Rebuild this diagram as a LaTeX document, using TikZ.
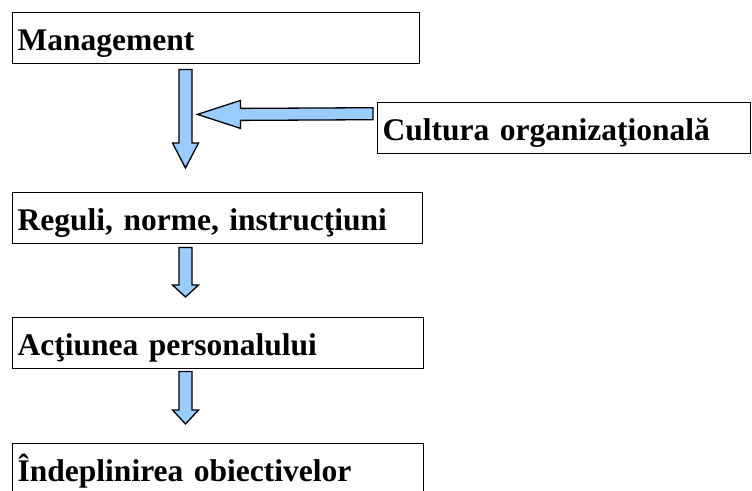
\documentclass[tikz,border=0pt]{standalone}
\usepackage{fontspec}
\setmainfont{Liberation Serif}
\usetikzlibrary{calc}

\definecolor{arrowblue}{RGB}{153,204,255}

\tikzset{
  stagebox/.style={draw, line width=1.4pt, rectangle, anchor=north west, minimum height=51pt,
    inner xsep=5pt, inner ysep=0pt, text height=32pt, text depth=7pt, align=left,
    font=\bfseries\fontsize{31.5}{36}\selectfont},
  blockarrow/.style={draw, line width=1.3pt, fill=arrowblue, line join=miter}
}

% block arrow pointing down: top, tip, head length
\newcommand{\downblock}[3]{%
  \draw[blockarrow] ($(#1)+(-6.5,0)$) -- ($(#1)+(6.5,0)$) -- ($(#2)+(6.5,-#3)$) -- ($(#2)+(13,-#3)$)
    -- (#2) -- ($(#2)+(-13,-#3)$) -- ($(#2)+(-6.5,-#3)$) -- cycle;}
% block arrow pointing left: tail, tip, head length
\newcommand{\leftblock}[3]{%
  \draw[blockarrow] ($(#1)+(0,-6)$) -- ($(#1)+(0,6)$) -- ($(#2)+(#3,6)$) -- ($(#2)+(#3,14)$)
    -- (#2) -- ($(#2)+(#3,-14)$) -- ($(#2)+(#3,-6)$) -- cycle;}

\begin{document}
\begin{tikzpicture}[x=1pt,y=-1pt]
\useasboundingbox (0,0) rectangle (752,490);
\clip (0,0) rectangle (752,490);

\node[stagebox, text width=397pt] (mgmt) at (12,12) {Management};
\node[stagebox, text width=363pt] (cultura) at (377,102) {Cultura organizaţională};
\node[stagebox, text width=400pt] (reguli) at (12,192) {Reguli, norme, instrucţiuni};
\node[stagebox, text width=401pt] (actiune) at (12,317) {Acţiunea personalului};
\node[stagebox, text width=401pt] (obiective) at (12,443) {Îndeplinirea obiectivelor};

\coordinate (m-out) at ($(mgmt.south west)+(173.5,5)$);
\coordinate (r-in) at ($(reguli.north west)+(173.5,-24)$);
\coordinate (r-out) at ($(reguli.south west)+(173.5,3)$);
\coordinate (a-in) at ($(actiune.north west)+(173.5,-20)$);
\coordinate (a-out) at ($(actiune.south west)+(173.5,2)$);
\coordinate (o-in) at ($(obiective.north west)+(173.5,-19)$);
\coordinate (c-out) at ($(cultura.west)+(-4,-14.5)$);
\coordinate (m-join) at ($(m-out)+(12,45)$);

\downblock{m-out}{r-in}{25}
\leftblock{c-out}{m-join}{43}
\downblock{r-out}{a-in}{12}
\downblock{a-out}{o-in}{14}
\end{tikzpicture}
\end{document}
